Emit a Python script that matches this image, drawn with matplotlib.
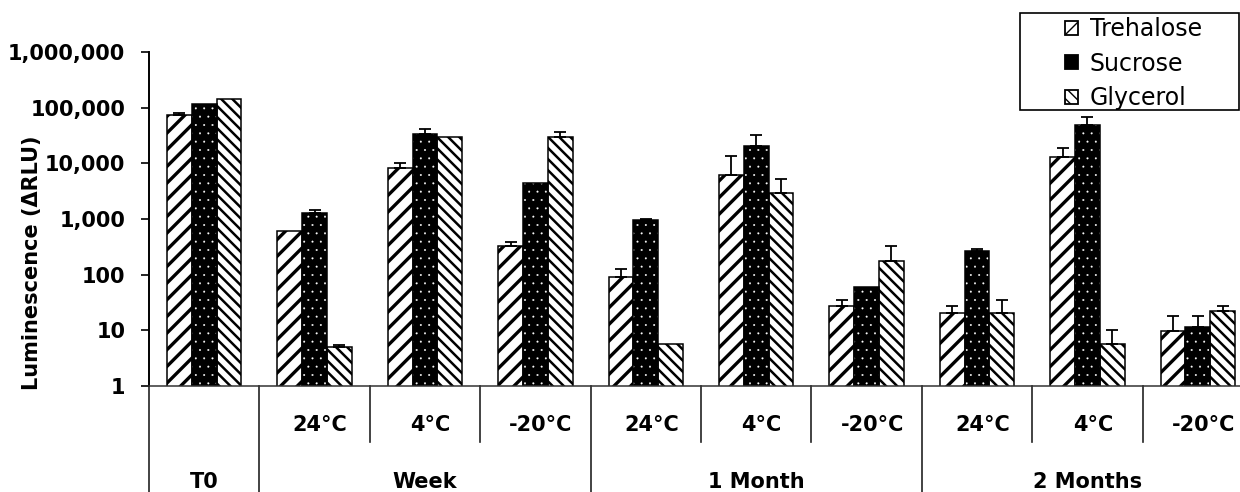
import numpy as np
import matplotlib
matplotlib.use("Agg")
import matplotlib.pyplot as plt
from matplotlib.patches import Rectangle
from matplotlib.ticker import NullLocator, FixedLocator, FixedFormatter
from matplotlib.transforms import blended_transform_factory

# ---------------- data ----------------
conditions = ["", "24°C", "4°C", "-20°C", "24°C", "4°C", "-20°C", "24°C", "4°C", "-20°C"]
groups = ["T0", "Week", "1 Month", "2 Months"]
group_sizes = [1, 3, 3, 3]
series_names = ["Trehalose", "Sucrose", "Glycerol"]

trehalose = [73000, 607, 8300, 330, 92, 6220, 27, 20.7, 12900, 9.8]
trehalose_err = [7700, 0, 1900, 55, 33, 7380, 7.5, 6.6, 5600, 8.2]
sucrose = [117000, 1276, 33000, 4410, 955, 20600, 59, 262, 49000, 11.5]
sucrose_err = [0, 170, 8000, 0, 55, 11500, 0, 26, 19400, 6.5]
glycerol = [146000, 5.0, 29900, 29900, 5.7, 2950, 175, 20.7, 5.75, 22.2]
glycerol_err = [0, 0.4, 0, 6400, 0, 2310, 147, 14.3, 4.25, 5.1]

ytick_values = [1, 10, 100, 1000, 10000, 100000, 1000000]
ytick_labels = ["1", "10", "100", "1,000", "10,000", "100,000", "1,000,000"]
ylabel = "Luminescence (\u0394RLU)"

# ---------------- figure ----------------
W, H = 1240, 492
fig = plt.figure(figsize=(W / 100, H / 100), dpi=100)
ax_left, ax_right, ax_top, ax_bottom = 149, 1253, 52, 386
ax = fig.add_axes([ax_left / W, 1 - ax_bottom / H, (ax_right - ax_left) / W, (ax_bottom - ax_top) / H])

FONT = "DejaVu Sans"
n = len(conditions)
x = np.arange(n) + 0.5
bw = 0.225


def hatched_bars(xpos, vals, face, edge, hatch, hlw, **kw):
    with plt.rc_context({"hatch.linewidth": hlw}):
        bars = ax.bar(xpos, vals, width=bw, color=face, edgecolor=edge, hatch=hatch, **kw)
    for b in bars:
        if hasattr(b, "set_hatch_linewidth"):
            b.set_hatch_linewidth(hlw)
    return bars


# Trehalose: white with thick forward stripes
hatched_bars(x - bw, trehalose, "white", "black", "//", 2.4, linewidth=1.1, zorder=2)
# Sucrose: black with small white dots
hatched_bars(x, sucrose, "black", "white", "..", 0.2, linewidth=0, zorder=2)
ax.bar(x, sucrose, width=bw, fill=False, edgecolor="black", linewidth=1.1, zorder=2.1)
# Glycerol: white with dense back stripes
hatched_bars(x + bw, glycerol, "white", "black", "\\\\\\", 1.8, linewidth=1.1, zorder=2)

# error bars (upward only)
for off, vals, errs in [(-bw, trehalose, trehalose_err), (0, sucrose, sucrose_err), (bw, glycerol, glycerol_err)]:
    vals = np.asarray(vals, float)
    errs = np.asarray(errs, float)
    m = errs > 0
    ax.errorbar(x[m] + off, vals[m], yerr=[np.zeros(m.sum()), errs[m]], fmt="none",
                ecolor="black", elinewidth=1.3, capsize=4.5, capthick=1.3, zorder=3)

ax.set_yscale("log")
ax.set_ylim(1, 1e6)
ax.set_xlim(0, n)
ax.yaxis.set_major_locator(FixedLocator(ytick_values))
ax.yaxis.set_major_formatter(FixedFormatter(ytick_labels))
ax.yaxis.set_minor_locator(NullLocator())
ax.set_xticks([])
ax.tick_params(axis="y", direction="out", length=6, width=1.2, pad=11, labelsize=15)
for lab in ax.get_yticklabels():
    lab.set_fontweight("bold")
    lab.set_family(FONT)

for s in ["top", "right"]:
    ax.spines[s].set_visible(False)
ax.spines["left"].set_linewidth(1.4)
ax.spines["bottom"].set_linewidth(1.1)
ax.spines["bottom"].set_color("#333333")

ax.set_ylabel(ylabel, fontsize=15, fontweight="bold", family=FONT, va="center")
ax.yaxis.set_label_coords(-0.106, 0.368)

# ---------------- two-level category axis ----------------
tr = blended_transform_factory(ax.transData, ax.transAxes)
ax_h = ax_bottom - ax_top
short_y = -(442 - ax_bottom) / ax_h
full_y = -(500 - ax_bottom) / ax_h
sub_y = -(425 - ax_bottom) / ax_h
grp_y = -(482 - ax_bottom) / ax_h

boundaries = np.cumsum([0] + group_sizes)
for b in range(n + 1):
    depth = full_y if b in boundaries else short_y
    ax.plot([b, b], [0, depth], transform=tr, color="#222222", lw=1.2, clip_on=False)

for i, c in enumerate(conditions):
    if c:
        ax.text(i + 0.55, sub_y, c, transform=tr, ha="center", va="center",
                fontsize=15, fontweight="bold", family=FONT)

for gi, g in enumerate(groups):
    cx = (boundaries[gi] + boundaries[gi + 1]) / 2
    ax.text(cx, grp_y, g, transform=tr, ha="center", va="center",
            fontsize=15, fontweight="bold", family=FONT)

# ---------------- legend ----------------
handles = []
with plt.rc_context({"hatch.linewidth": 2.0}):
    handles.append(Rectangle((0, 0), 1, 1, facecolor="white", edgecolor="black", hatch="/", lw=1.3))
    handles.append(Rectangle((0, 0), 1, 1, facecolor="black", edgecolor="black", lw=1.3))
with plt.rc_context({"hatch.linewidth": 1.5}):
    handles.append(Rectangle((0, 0), 1, 1, facecolor="white", edgecolor="black", hatch="\\\\\\", lw=1.3))

leg = fig.legend(handles, series_names, loc="upper left",
                 bbox_to_anchor=(1065 / W, 1 - 17 / H), frameon=False,
                 prop={"family": FONT, "size": 17}, handlelength=0.55, handleheight=0.55,
                 handletextpad=0.5, labelspacing=0.45, borderpad=0, borderaxespad=0)

frame = Rectangle((1020 / W, 1 - 110 / H), (1239 - 1020) / W, (110 - 13) / H,
                  transform=fig.transFigure, fill=False, edgecolor="black", lw=1.2)
fig.add_artist(frame)

fig.savefig("out.png", dpi=100)
